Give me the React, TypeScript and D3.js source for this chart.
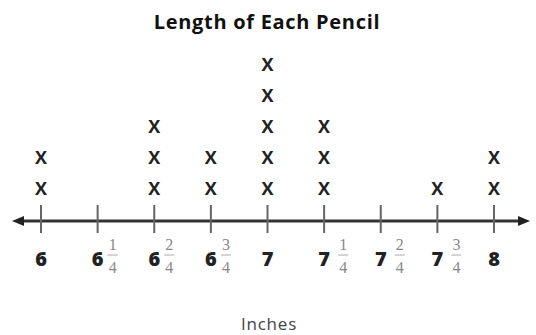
import React from "react";
import * as d3 from "d3";

const values = [6, 6.25, 6.5, 6.75, 7, 7.25, 7.5, 7.75, 8];
const counts = [2, 0, 3, 2, 5, 3, 0, 1, 2];
const wholeLabels = ["6", "6", "6", "6", "7", "7", "7", "7", "8"];
const numerators = ["", "1", "2", "3", "", "1", "2", "3", ""];
const denominators = ["", "4", "4", "4", "", "4", "4", "4", ""];
const title = "Length of Each Pencil";
const axisTitle = "Inches";

const W = 536;
const H = 335;

export default function App() {
  const x = d3.scaleLinear().domain([6, 8]).range([41, 494]);
  const y = d3.scaleLinear().domain([0, 5]).range([219, 64]);
  const axisY = 221;
  const font = "'Open Sans', Lato, 'DejaVu Sans', sans-serif";
  const serif = "'Liberation Serif', 'DejaVu Serif', serif";
  return (
    <svg
      width={W}
      height={H}
      style={{ position: "absolute", left: 0, top: 0, background: "#fff" }}
    >
      <text x={267} y={21} textAnchor="middle" dominantBaseline="central" fontFamily={font} fontWeight={700} fontSize={20} letterSpacing={0.7} fill="#111">
        {title}
      </text>
      <line x1={20} x2={522} y1={axisY} y2={axisY} stroke="#333" strokeWidth={3} />
      <path d={`M12,${axisY} L24,${axisY - 5} L24,${axisY + 5} Z`} fill="#222" />
      <path d={`M530,${axisY} L518,${axisY - 5} L518,${axisY + 5} Z`} fill="#222" />
      {values.map((v, i) => {
        const fx = x(v) + (v >= 7 ? 19 : 15);
        return (
          <g key={i}>
            <line x1={x(v)} x2={x(v)} y1={205} y2={233} stroke="#666" strokeWidth={2} />
            {d3.range(counts[i]).map((k) => (
              <text key={k} x={x(v)} y={y(k + 1)} textAnchor="middle" dominantBaseline="central" fontFamily={font} fontWeight={700} fontSize={18} fill="#222">
                X
              </text>
            ))}
            <text x={x(v)} y={258} textAnchor="middle" dominantBaseline="central" fontFamily={font} fontWeight={800} fontSize={20} fill="#222">
              {wholeLabels[i]}
            </text>
            {numerators[i] && (
              <g fill="#888" fontFamily={serif} fontSize={16} textAnchor="middle">
                <text x={fx} y={244} dominantBaseline="central">{numerators[i]}</text>
                <line x1={fx - 5} x2={fx + 5} y1={255} y2={255} stroke="#aaa" strokeWidth={1} />
                <text x={fx} y={267} dominantBaseline="central">{denominators[i]}</text>
              </g>
            )}
          </g>
        );
      })}
      <text x={269} y={323} textAnchor="middle" dominantBaseline="central" fontFamily={font} fontSize={17} letterSpacing={0.8} fill="#444">
        {axisTitle}
      </text>
    </svg>
  );
}
